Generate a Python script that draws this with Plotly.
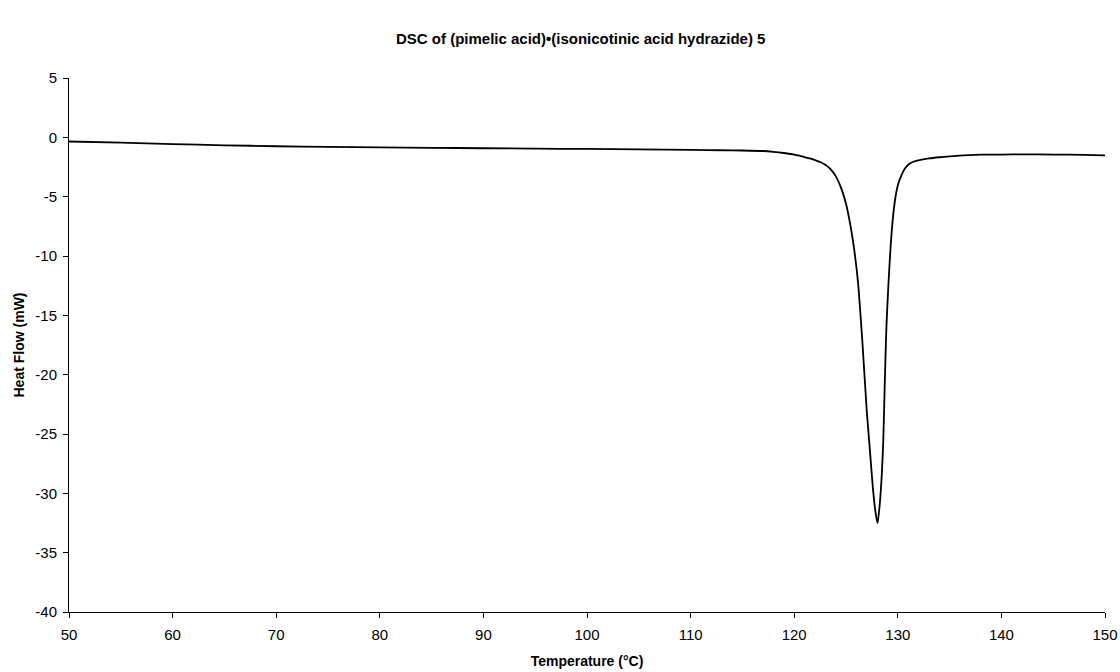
import plotly.graph_objects as go

temperature = [50, 55, 60, 65, 70, 75, 80, 85, 90, 95, 100, 105, 110, 113, 115, 117, 118, 119, 120,
               120.5, 121, 121.5, 122, 122.5, 123, 123.5, 124, 124.5, 125, 125.4, 125.8, 126.2,
               126.6, 127.0, 127.3, 127.6, 127.85, 128.05, 128.25, 128.45, 128.6, 128.75, 128.9,
               129.1, 129.3, 129.55, 129.8, 130.05, 130.4, 130.7, 131.1, 131.5, 132.2, 133, 134,
               135, 136.3, 137.5, 138.5, 140, 142, 145, 148, 150]
heat_flow = [-0.35, -0.45, -0.57, -0.67, -0.75, -0.8, -0.85, -0.88, -0.92, -0.95, -0.98, -1.02,
             -1.06, -1.09, -1.11, -1.15, -1.22, -1.32, -1.45, -1.55, -1.66, -1.78, -1.92, -2.08,
             -2.32, -2.68, -3.25, -4.2, -5.6, -7.3, -9.5, -12.6, -17.5, -23.0, -26.3, -29.6, -31.6,
             -32.5, -31.0, -28.5, -25.5, -20.5, -16.0, -12.3, -9.3, -6.6, -4.9, -3.9, -3.1, -2.6,
             -2.25, -2.06, -1.9, -1.78, -1.68, -1.6, -1.52, -1.47, -1.45, -1.45, -1.43, -1.45,
             -1.47, -1.52]

x_ticks = list(range(50, 151, 10))
y_ticks = list(range(-40, 6, 5))

fig = go.Figure()
fig.add_trace(go.Scatter(x=temperature, y=heat_flow, mode="lines",
                         line=dict(color="black", width=1.8, shape="spline", smoothing=0.5),
                         showlegend=False))

fig.update_layout(
    width=1120, height=672,
    paper_bgcolor="white", plot_bgcolor="white",
    margin=dict(l=69, r=15, t=78, b=60),
    font=dict(family="Liberation Sans, Arial, sans-serif", size=15, color="black"),
    title=dict(text="<b>DSC of (pimelic acid)•(isonicotinic acid hydrazide) 5</b>",
               x=0.5185, xref="container", xanchor="center", y=0.942, yanchor="middle",
               font=dict(size=15, color="black")),
)
fig.update_xaxes(range=[50, 150], tickvals=x_ticks, ticktext=[str(v) for v in x_ticks],
                 showgrid=False, zeroline=False, showline=True, linecolor="black", linewidth=1,
                 ticks="outside", ticklen=5, tickcolor="black", automargin=False,
                 ticklabelstandoff=4,
                 title=dict(text="<b>Temperature (°C)</b>", font=dict(size=14), standoff=14))
fig.update_yaxes(range=[-40, 5], tickvals=y_ticks, ticktext=[str(v) for v in y_ticks],
                 showgrid=False, zeroline=False, showline=True, linecolor="black", linewidth=1,
                 ticks="outside", ticklen=5, tickcolor="black", automargin=False,
                 ticklabelstandoff=3,
                 title=dict(text="<b>Heat Flow (mW)</b>", font=dict(size=14), standoff=7))

fig.write_html("out.html")
